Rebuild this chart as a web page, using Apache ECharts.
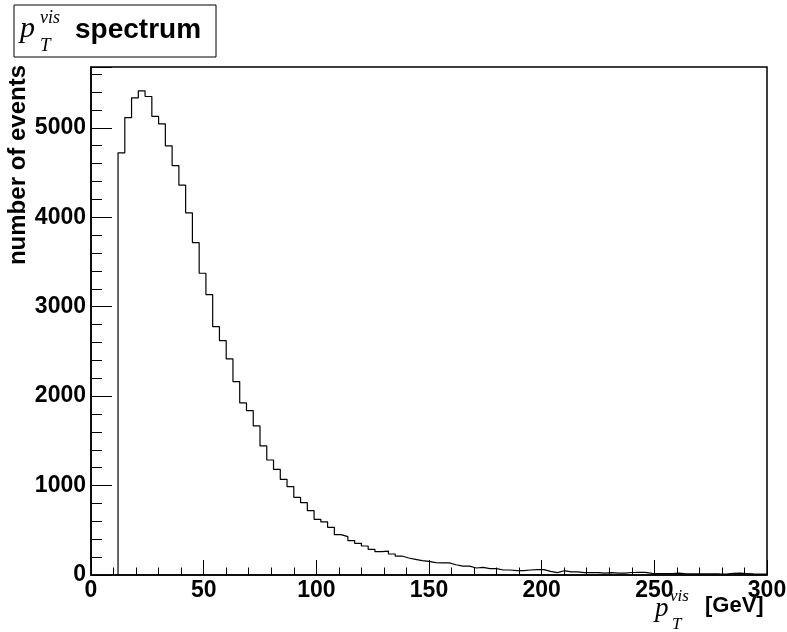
<!DOCTYPE html>
<html>
<head>
<meta charset="utf-8">
<script src="https://cdn.jsdelivr.net/npm/echarts@6/dist/echarts.min.js"></script>
<style>
    html, body { margin: 0; padding: 0; background: #fff; }
    #chartView { width: 787px; height: 632px; }
</style>
</head>
<body>
<div id="chartView"></div>
<script>
// histogram: 3 GeV bins, first filled bin starts at 12 GeV
var binStart = 12;
var binWidth = 3;
var binCounts = [
    4720, 5115, 5335, 5414, 5350, 5127, 5045, 4799, 4578, 4359,
    4049, 3717, 3374, 3135, 2777, 2621, 2416, 2163, 1924, 1838,
    1667, 1443, 1286, 1182, 1070, 988, 869, 809, 719, 623,
    593, 533, 451, 429, 384, 354, 324, 287, 261, 268,
    235, 212, 190, 175, 160, 153, 138, 135, 135, 115,
    100, 100, 78, 86, 71, 71, 56, 56, 48, 48,
    56, 60, 60, 41, 26, 48, 34, 34, 26, 26,
    26, 22, 26, 20, 20, 28, 30, 30, 18, 17,
    16, 15, 22, 14, 13, 12, 12, 14, 12, 11,
    18, 20, 16, 12, 10, 10
];
var xTicks = [0, 50, 100, 150, 200, 250, 300];
var yTicks = [0, 1000, 2000, 3000, 4000, 5000];
var yMax = 5680;

var labelFont = 'Liberation Sans, Arial, Helvetica, sans-serif';
var mathFont = 'Liberation Serif, Times New Roman, serif';

//step outline of the histogram
function buildSteps() {
    var pts = [[binStart, 0]];
    for (var i = 0; i < binCounts.length; i++) {
        pts.push([binStart + i * binWidth, binCounts[i]]);
    }
    pts.push([binStart + binCounts.length * binWidth, binCounts[binCounts.length - 1]]);
    return pts;
}

function txt(x, y, s, font, extra) {
    var style = { text: s, font: font, fill: '#000', verticalAlign: 'middle' };
    for (var k in extra) style[k] = extra[k];
    return { type: 'text', x: x, y: y, style: style };
}

var myChart = echarts.init(document.getElementById('chartView'));

var option = {
    backgroundColor: '#fff',
    animation: false,
    grid: {
        left: 91, right: 20, top: 67, bottom: 57,
        outerBoundsMode: 'none',
        show: true,
        borderColor: '#000',
        borderWidth: 1.5
    },
    xAxis: {
        type: 'value',
        min: xTicks[0],
        max: xTicks[xTicks.length - 1],
        interval: 50,
        axisLine: { lineStyle: { color: '#000', width: 1.5 } },
        axisTick: { inside: true, length: 15, lineStyle: { color: '#000' } },
        minorTick: { show: true, splitNumber: 5, length: 7.5, lineStyle: { color: '#000' } },
        splitLine: { show: false },
        axisLabel: {
            color: '#000', fontSize: 23, fontWeight: 'bold', fontFamily: labelFont, margin: 4
        }
    },
    yAxis: [
        {
            type: 'value',
            min: 0,
            max: yMax,
            interval: 1000,
            axisLine: { show: true, lineStyle: { color: '#000', width: 1.5 } },
            axisTick: { inside: true, length: 21, lineStyle: { color: '#000' } },
            splitLine: { show: false },
            axisLabel: {
                color: '#000', fontSize: 23, fontWeight: 'bold', fontFamily: labelFont, margin: 5,
                formatter: function (v) {
                    return yTicks.indexOf(v) >= 0 ? String(v) : '';
                }
            }
        },
        {
            // minor ticks every 200
            type: 'value',
            position: 'left',
            min: 0,
            max: yMax,
            interval: 200,
            axisLine: { show: false },
            axisTick: { inside: true, length: 11, lineStyle: { color: '#000' } },
            splitLine: { show: false },
            axisLabel: { show: false }
        }
    ],
    series: [{
        type: 'line',
        step: 'end',
        symbol: 'none',
        xAxisIndex: 0,
        yAxisIndex: 0,
        lineStyle: { color: '#000', width: 1.2 },
        data: buildSteps()
    }],
    graphic: [
        // title box
        { type: 'rect', shape: { x: 14, y: 5, width: 202, height: 52 },
          style: { fill: '#fff', stroke: '#000', lineWidth: 1 } },
        txt(20, 29, 'p', 'italic 30px ' + mathFont),
        txt(40, 18, 'vis', 'italic 18px ' + mathFont),
        txt(40, 46, 'T', 'italic 19px ' + mathFont),
        txt(75, 30, 'spectrum', 'bold 28px ' + labelFont),
        // y axis title
        { type: 'text', x: 18, y: 65, rotation: Math.PI / 2,
          style: { text: 'number of events', font: 'bold 24px ' + labelFont, fill: '#000', align: 'right', verticalAlign: 'middle' } },
        // x axis title
        txt(655, 609, 'p', 'italic 27px ' + mathFont),
        txt(670, 597, 'vis', 'italic 17px ' + mathFont),
        txt(672, 625, 'T', 'italic 17px ' + mathFont),
        txt(705, 606, '[GeV]', 'bold 22px ' + labelFont)
    ]
};

myChart.setOption(option);
</script>
</body>
</html>
